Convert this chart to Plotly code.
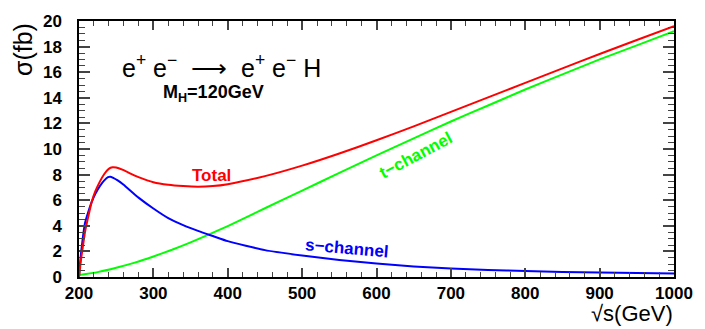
import plotly.graph_objects as go

# sqrt(s) in GeV and cross sections in fb
total_x = [200, 201, 203, 205, 208, 212, 217, 222, 228, 234, 240, 245, 250, 260, 270, 280, 300, 320, 340,
           360, 380, 400, 450, 500, 550, 600, 650, 700, 750, 800, 850, 900, 950, 1000]
total_y = [0.0, 0.5, 1.5, 2.3, 3.5, 4.6, 5.85, 6.7, 7.45, 8.05, 8.45, 8.57, 8.55, 8.35, 8.05, 7.8, 7.4, 7.2, 7.1,
           7.05, 7.1, 7.25, 7.88, 8.7, 9.65, 10.68, 11.77, 12.9, 14.03, 15.17, 16.3, 17.42, 18.52, 19.6]

s_x = [200, 201, 203, 205, 208, 212, 217, 222, 228, 234, 239, 242, 246, 252, 260, 270, 280, 300, 320, 340,
       360, 380, 400, 450, 500, 550, 600, 650, 700, 750, 800, 850, 900, 950, 1000]
s_y = [0.0, 0.8, 2.0, 3.0, 4.2, 5.0, 5.85, 6.5, 7.1, 7.55, 7.8, 7.84, 7.75, 7.55, 7.2, 6.7, 6.2, 5.35, 4.6, 4.05,
       3.6, 3.2, 2.8, 2.1, 1.68, 1.33, 1.05, 0.83, 0.67, 0.55, 0.47, 0.4, 0.35, 0.31, 0.28]

t_x = [200, 225, 250, 275, 300, 325, 350, 375, 400, 450, 500, 550, 600, 650, 700, 750, 800, 850, 900, 950, 1000]
t_y = [0.15, 0.38, 0.72, 1.12, 1.6, 2.13, 2.71, 3.33, 3.98, 5.37, 6.75, 8.13, 9.5, 10.83, 12.15, 13.4, 14.65,
       15.83, 17.0, 18.1, 19.2]

x_ticks = [200, 300, 400, 500, 600, 700, 800, 900, 1000]
y_ticks = [0, 2, 4, 6, 8, 10, 12, 14, 16, 18, 20]

RED, GREEN, BLUE = "#ff0000", "#00ff00", "#0000ff"
FONT = "Liberation Sans"
NB = "\u00a0"


def bold(t):
    return "<b>" + t + "</b>"


fig = go.Figure()
fig.add_trace(go.Scatter(x=t_x, y=t_y, mode="lines", line=dict(color=GREEN, width=2, shape="spline", smoothing=0.5)))
fig.add_trace(go.Scatter(x=s_x, y=s_y, mode="lines", line=dict(color=BLUE, width=2, shape="spline", smoothing=0.5)))
fig.add_trace(go.Scatter(x=total_x, y=total_y, mode="lines", line=dict(color=RED, width=2, shape="spline", smoothing=0.5)))

axis_common = dict(
    showgrid=False, zeroline=False, showline=True, linecolor="black", linewidth=1.5,
    mirror="allticks", ticks="inside", tickcolor="#444", tickwidth=1.5,
    tickfont=dict(family=FONT, size=17, color="black"),
)
fig.update_xaxes(range=[200, 1000], tickvals=x_ticks, ticktext=[bold(str(v)) for v in x_ticks], ticklen=9,
                 ticklabelstandoff=0,
                 minor=dict(dtick=20, tick0=200, ticks="inside", ticklen=5, tickcolor="#444", tickwidth=1.2),
                 **axis_common)
fig.update_yaxes(range=[0, 20], tickvals=y_ticks, ticktext=[bold(str(v)) for v in y_ticks], ticklen=11,
                 ticklabelstandoff=12,
                 minor=dict(dtick=0.5, tick0=0, ticks="inside", ticklen=6, tickcolor="#444", tickwidth=1.2),
                 **axis_common)

title_text = ("e<sup>+</sup>" + NB + "e<sup>−</sup>" + NB * 2 + "⟶" + NB * 2 +
              "e<sup>+</sup>" + NB + "e<sup>−</sup>" + NB + "H")

annotations = [
    dict(text=title_text, x=392, y=16.45, xref="x", yref="y",
         showarrow=False, font=dict(family=FONT, size=25, color="black")),
    dict(text=bold("M<sub>H</sub>=120GeV"), x=381, y=14.3, xref="x", yref="y",
         showarrow=False, font=dict(family=FONT, size=18, color="black")),
    dict(text=bold("Total"), x=378, y=7.9, xref="x", yref="y", showarrow=False,
         font=dict(family=FONT, size=17, color=RED)),
    dict(text=bold("t−channel"), x=653, y=9.5, xref="x", yref="y", showarrow=False, textangle=-28,
         font=dict(family=FONT, size=17, color=GREEN)),
    dict(text=bold("s−channel"), x=561, y=2.2, xref="x", yref="y", showarrow=False, textangle=5,
         font=dict(family=FONT, size=17, color=BLUE)),
    dict(text="σ(fb)", x=-0.094, y=0.887, xref="paper", yref="paper", showarrow=False, textangle=-90,
         xanchor="center", yanchor="middle", font=dict(family=FONT, size=25, color="black")),
    dict(text="√s(GeV)", x=1.0, y=-0.1965, xref="paper", yref="paper", showarrow=False, borderpad=0,
         xanchor="right", yanchor="bottom", font=dict(family=FONT, size=22, color="black")),
]

fig.update_layout(
    width=705, height=329, margin=dict(l=79, r=22, t=15, b=52),
    paper_bgcolor="white", plot_bgcolor="white", showlegend=False,
    annotations=annotations,
)

fig.write_html("out.html")
